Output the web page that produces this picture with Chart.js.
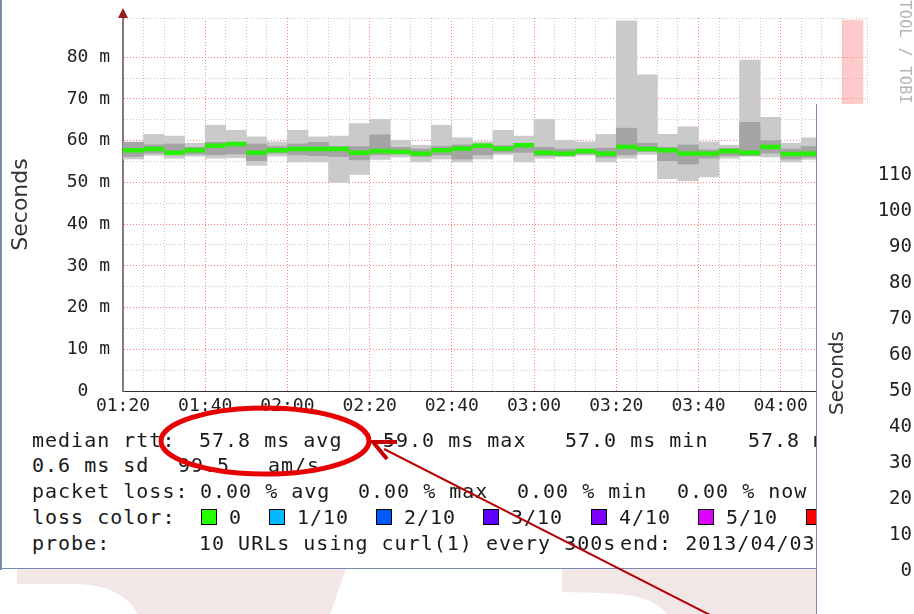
<!DOCTYPE html>
<html>
<head>
<meta charset="utf-8">
<script src="https://cdn.jsdelivr.net/npm/chart.js@4.4.1/dist/chart.umd.min.js"></script>
<style>
  html, body { margin: 0; padding: 0; }
  body { width: 914px; height: 614px; overflow: hidden; position: relative; background: #fff; }
  .mono { font-family: 'DejaVu Sans Mono', monospace; }
  #backdrop { position: absolute; left: 0; top: 0; z-index: 0; }
  #mainWin { position: absolute; left: 0; top: 0; width: 914px; height: 569px; background: #fff; z-index: 1; }
  #mainWin .edgeL { position: absolute; left: 0; top: 0; width: 2px; height: 570px; background: #7b8ab0; }
  #mainWin .edgeB { position: absolute; left: 0; top: 568px; width: 816px; height: 1px; background: #7b8ab0; }
  #rttChart { position: absolute; left: 0; top: 0; }
  #rrdMark { position: absolute; left: 896px; top: -28px; writing-mode: vertical-rl; font-size: 15px; letter-spacing: 0.4px; color: #b4b4b4; }
  #legend span { position: absolute; font-size: 20px; letter-spacing: 1px; line-height: 20px; color: #1a1a1a; white-space: pre; }
  #legend i { position: absolute; width: 14px; height: 14px; border: 1px solid #000; }
  #sideWin { position: absolute; left: 816px; top: 104px; width: 97px; height: 510px; border-left: 1px solid #7b8ab0; background: #fff; overflow: hidden; z-index: 2; }
  #sideChart { position: absolute; left: 0; top: 0; }
  #marks { position: absolute; left: 0; top: 0; z-index: 3; }
</style>
</head>
<body>

<svg id="backdrop" width="914" height="614">
  <path d="M17,569 L346,569 L330,614 L137,614 C130,598 112,586 80,584 L17,584 Z" fill="#f3e6e6"/>
  <path d="M562,569 L816,569 L816,614 L667,614 C655,600 640,594 600,593 L562,592 Z" fill="#f3e6e6"/>
</svg>

<div id="mainWin">
  <canvas id="rttChart" width="914" height="430"></canvas>
  <div id="rrdMark" class="mono">RRDTOOL / TOBI OETIKER</div>
  <div id="legend" class="mono">
    <span style="left:32px;top:430px">median rtt:</span>
    <span style="left:199px;top:430px">57.8 ms avg</span>
    <span style="left:383px;top:430px">59.0 ms max</span>
    <span style="left:565px;top:430px">57.0 ms min</span>
    <span style="left:748px;top:430px">57.8 ms now</span>

    <span style="left:32px;top:455px">0.6 ms sd</span>
    <span style="left:178px;top:455px">99.5</span>
    <span style="left:268px;top:455px">am/s</span>

    <span style="left:32px;top:481px">packet loss:</span>
    <span style="left:200px;top:481px">0.00 % avg</span>
    <span style="left:358px;top:481px">0.00 % max</span>
    <span style="left:517px;top:481px">0.00 % min</span>
    <span style="left:677px;top:481px">0.00 % now</span>

    <span style="left:32px;top:507px">loss color:</span>
    <i style="left:201px;top:509px;background:#26ff00"></i><span style="left:229px;top:507px">0</span>
    <i style="left:269px;top:509px;background:#00b8ff"></i><span style="left:297px;top:507px">1/10</span>
    <i style="left:376px;top:509px;background:#0059ff"></i><span style="left:404px;top:507px">2/10</span>
    <i style="left:483px;top:509px;background:#5e00ff"></i><span style="left:511px;top:507px">3/10</span>
    <i style="left:591px;top:509px;background:#7e00ff"></i><span style="left:619px;top:507px">4/10</span>
    <i style="left:698px;top:509px;background:#dd00ff"></i><span style="left:726px;top:507px">5/10</span>
    <i style="left:806px;top:509px;background:#ff0000"></i><span style="left:834px;top:507px">10/10</span>

    <span style="left:32px;top:533px">probe:</span>
    <span style="left:199px;top:533px">10 URLs using curl(1) every 300s</span>
    <span style="left:620px;top:533px">end: 2013/04/03 04:17:43</span>
  </div>
  <div class="edgeL"></div>
  <div class="edgeB"></div>
</div>

<div id="sideWin">
  <canvas id="sideChart" width="200" height="510"></canvas>
</div>

<svg id="marks" width="914" height="614">
  <ellipse cx="265" cy="441" rx="104" ry="33" fill="none" stroke="#e60000" stroke-width="5"/>
  <line x1="384" y1="449" x2="712" y2="616" stroke="#b50000" stroke-width="2"/>
  <polyline points="397,442 373,442 387,459" fill="none" stroke="#c40000" stroke-width="4"/>
</svg>

<script>
// 5-minute slots, start of each slot
var times = ['01:20', '01:25', '01:30', '01:35', '01:40', '01:45', '01:50', '01:55',
             '02:00', '02:05', '02:10', '02:15', '02:20', '02:25', '02:30', '02:35',
             '02:40', '02:45', '02:50', '02:55', '03:00', '03:05', '03:10', '03:15',
             '03:20', '03:25', '03:30', '03:35', '03:40', '03:45', '03:50', '03:55',
             '04:00', '04:05'];

// smoke: lowest and highest sample per slot (ms)
var smokeMin = [55.6, 56.5, 55.8, 56.3, 55.8, 55.9, 54.1, 56.3, 54.9, 54.9, 50.0, 51.9,
                55.5, 56.1, 54.9, 55.6, 54.9, 55.6, 56.7, 54.9, 55.8, 56.1, 56.5, 54.9,
                55.8, 56.7, 50.9, 50.4, 51.3, 55.8, 56.3, 56.1, 54.9, 55.5];
var smokeMax = [59.7, 61.5, 61.1, 59.4, 63.7, 62.5, 60.9, 59.7, 62.5, 60.9, 61.1, 64.1,
                65.1, 60.1, 58.9, 63.7, 60.7, 59.7, 62.5, 61.1, 65.1, 60.1, 59.7, 61.5,
                88.7, 75.8, 61.5, 63.3, 59.7, 58.9, 79.3, 65.6, 59.4, 60.7];

// denser middle part of the smoke
var coreLow  = [56.2, 57.0, 56.6, 56.8, 56.6, 56.8, 55.2, 57.0, 56.6, 56.4, 56.2, 55.4,
                56.6, 56.8, 56.2, 56.6, 55.6, 56.6, 57.2, 57.2, 56.4, 56.4, 56.8, 56.0,
                56.6, 57.4, 55.2, 54.4, 55.8, 56.4, 56.4, 57.0, 55.6, 56.0];
var coreHigh = [59.6, 59.0, 59.2, 58.4, 59.6, 59.6, 59.2, 58.6, 59.2, 59.6, 58.6, 58.6,
                61.4, 58.4, 58.0, 58.6, 59.0, 59.0, 58.8, 59.0, 58.4, 58.0, 58.0, 58.2,
                63.0, 59.4, 58.4, 59.0, 57.8, 58.2, 64.4, 60.0, 58.0, 58.6];

// median rtt per slot (ms)
var medianRtt = [57.7, 58.0, 57.1, 57.7, 58.8, 59.2, 57.1, 57.7, 58.0, 58.0, 58.0, 57.1,
                 57.5, 57.3, 56.9, 57.7, 58.1, 58.8, 58.1, 58.9, 57.1, 56.9, 57.5, 56.9,
                 58.5, 58.0, 57.7, 56.9, 56.9, 57.5, 57.1, 58.5, 56.8, 56.9];

// slot without data (pink)
var noDataSlots = ['04:15'];
var noDataTop = 88.9;

var xTickLabels = ['01:20', '01:40', '02:00', '02:20', '02:40', '03:00', '03:20', '03:40', '04:00'];
var yTickLabels = ['0  ', '10 m', '20 m', '30 m', '40 m', '50 m', '60 m', '70 m', '80 m'];
var sideTickLabels = ['0', '10', '20', '30', '40', '50', '60', '70', '80', '90', '100', '110'];

// minutes since 01:20, centre of the slot
function slotCentre(t) {
  var p = t.split(':');
  return (+p[0]) * 60 + (+p[1]) - 80 + 2.5;
}

function halfSlot(ctx) {
  var s = ctx.chart.scales.x;
  return Math.abs(s.getPixelForValue(5) - s.getPixelForValue(0)) / 2;
}

var gridColor = function(ctx, major) {
  return ctx.tick && Math.round(ctx.tick.value) % major === 0 ? '#ff7c7c' : '#c6c6c6';
};

// arrow on top of the y axis
var axisArrow = {
  id: 'axisArrow',
  afterDraw: function(chart) {
    var ctx = chart.ctx, a = chart.chartArea;
    ctx.save();
    ctx.fillStyle = '#9b1c1c';
    ctx.beginPath();
    ctx.moveTo(a.left, a.top - 10);
    ctx.lineTo(a.left - 5, a.top);
    ctx.lineTo(a.left + 5, a.top);
    ctx.closePath();
    ctx.fill();
    ctx.restore();
  }
};

var monoFont = { family: 'DejaVu Sans Mono', size: 18 };

var rttChart = new Chart(document.getElementById('rttChart'), {
  type: 'bar',
  data: {
    datasets: [
      {
        type: 'line',
        label: 'median rtt',
        data: times.map(function(t, i) { return { x: slotCentre(t), y: medianRtt[i] }; }),
        showLine: false,
        pointStyle: 'line',
        pointRadius: halfSlot,
        pointBorderWidth: 4.5,
        pointBorderColor: '#26f000',
        pointBackgroundColor: '#26f000',
        order: 0
      },
      {
        label: 'smoke core',
        data: times.map(function(t, i) { return { x: slotCentre(t), y: [coreLow[i], coreHigh[i]] }; }),
        backgroundColor: '#a4a4a4',
        grouped: false, barPercentage: 1, categoryPercentage: 1,
        order: 1
      },
      {
        label: 'smoke',
        data: times.map(function(t, i) { return { x: slotCentre(t), y: [smokeMin[i], smokeMax[i]] }; }),
        backgroundColor: '#cacaca',
        grouped: false, barPercentage: 1, categoryPercentage: 1,
        order: 2
      },
      {
        label: 'no data',
        data: noDataSlots.map(function(t) { return { x: slotCentre(t), y: [0, noDataTop] }; }),
        backgroundColor: 'rgba(255, 150, 150, 0.5)',
        grouped: false, barPercentage: 1, categoryPercentage: 1,
        order: 3
      }
    ]
  },
  options: {
    responsive: false,
    animation: false,
    devicePixelRatio: 1,
    layout: { padding: { top: 18, right: 47, left: 0, bottom: 0 } },
    plugins: { legend: { display: false }, tooltip: { enabled: false } },
    scales: {
      x: {
        type: 'linear',
        min: 0,
        max: 181,
        offset: false,
        afterFit: function(s) { s.height = 39; },
        grid: { offset: false, drawTicks: false, color: function(c) { return gridColor(c, 20); } },
        border: { color: '#333', width: 1, dash: [1, 2] },
        ticks: {
          stepSize: 5,
          autoSkip: false,
          maxRotation: 0,
          padding: 5,
          font: monoFont,
          color: '#222',
          callback: function(v) {
            var m = Math.round(v);
            return m % 20 === 0 && xTickLabels[m / 20] ? xTickLabels[m / 20] : '';
          }
        }
      },
      y: {
        min: 0,
        max: 89.4,
        afterFit: function(s) { s.width = 123; },
        grid: {
          drawTicks: true,
          tickLength: 13,
          tickColor: 'rgba(0,0,0,0)',
          color: function(c) { return gridColor(c, 10); }
        },
        border: { color: '#8a7878', width: 2, dash: [1, 2] },
        ticks: {
          stepSize: 5,
          autoSkip: false,
          padding: 0,
          font: monoFont,
          color: '#222',
          callback: function(v) {
            var m = Math.round(v * 10) / 10;
            return m % 10 === 0 && yTickLabels[m / 10] ? yTickLabels[m / 10] : '';
          }
        },
        title: {
          display: true,
          text: 'Seconds',
          font: { family: 'DejaVu Sans', size: 22 },
          color: '#333',
          padding: { top: 8, bottom: 0 }
        }
      }
    }
  },
  plugins: [axisArrow]
});

// the window behind, only its y axis is visible
var sideChart = new Chart(document.getElementById('sideChart'), {
  type: 'line',
  data: { datasets: [] },
  options: {
    responsive: false,
    animation: false,
    devicePixelRatio: 1,
    layout: { padding: { top: 71, bottom: 43, left: 0, right: 0 } },
    plugins: { legend: { display: false }, tooltip: { enabled: false } },
    scales: {
      x: { type: 'linear', display: false, min: 0, max: 1 },
      y: {
        min: 0,
        max: 110,
        afterFit: function(s) { s.width = 99; },
        grid: { display: false, drawTicks: false },
        border: { display: false },
        ticks: {
          stepSize: 10,
          padding: 4,
          font: { family: 'DejaVu Sans Mono', size: 19 },
          color: '#222',
          callback: function(v) { return sideTickLabels[Math.round(v / 10)]; }
        },
        title: {
          display: true,
          text: 'Seconds',
          font: { family: 'DejaVu Sans', size: 20 },
          color: '#333',
          padding: { top: 9, bottom: 0 }
        }
      }
    }
  }
});
</script>
</body>
</html>
